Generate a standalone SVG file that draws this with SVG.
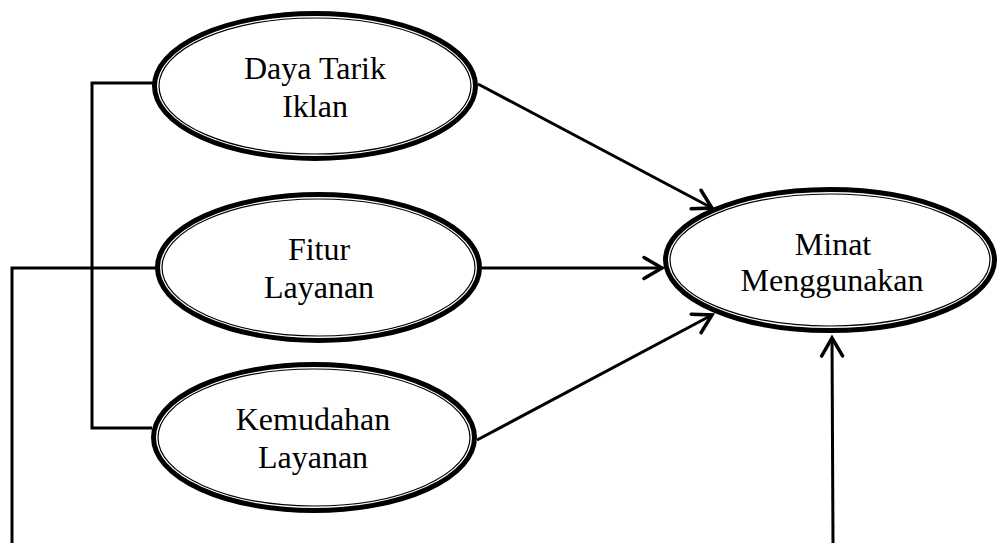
<svg xmlns="http://www.w3.org/2000/svg" width="998" height="543" viewBox="0 0 998 543">
<style>
.outer{fill:#fff;stroke:#000;stroke-width:5}
.inner{fill:none;stroke:#000;stroke-width:1.2}
.lbl{font-family:"Liberation Serif","Times New Roman",serif;font-size:32px;fill:#000;text-anchor:middle}
.ln{fill:none;stroke:#000;stroke-width:3}
.arr{fill:none;stroke:#000;stroke-width:3;marker-end:url(#ah)}
</style>
<defs>
<marker id="ah" markerUnits="userSpaceOnUse" viewBox="-22 -13 25 26" markerWidth="25" markerHeight="26" refX="0" refY="0" orient="auto" overflow="visible">
<path d="M-18,-10.5 L0,0 L-18,10.5" fill="none" stroke="#000" stroke-width="3.5" stroke-linejoin="miter" stroke-linecap="round"/>
</marker>
</defs>
<rect width="998" height="543" fill="#fff"/>
<g id="connectors">
<polyline class="ln" points="153,83 92,83 92,428 152,428"/>
<polyline class="ln" points="156,268 12,268 12,543"/>
<line class="arr" x1="478" y1="84" x2="712" y2="208"/>
<line class="arr" x1="482" y1="268" x2="662" y2="268"/>
<line class="arr" x1="477" y1="440" x2="712" y2="315"/>
<line class="arr" x1="833" y1="543" x2="832" y2="338"/>
</g>
<g id="daya-tarik-iklan">
<ellipse class="outer" cx="315" cy="86" rx="160.5" ry="72.5"/>
<ellipse class="inner" cx="315" cy="86" rx="156" ry="68"/>
<text class="lbl" x="315" y="79">Daya Tarik</text>
<text class="lbl" x="315" y="117">Iklan</text>
</g>
<g id="fitur-layanan">
<ellipse class="outer" cx="318.5" cy="267.5" rx="161" ry="73"/>
<ellipse class="inner" cx="318.5" cy="267.5" rx="156.5" ry="68.5"/>
<text class="lbl" x="319" y="260">Fitur</text>
<text class="lbl" x="319" y="298">Layanan</text>
</g>
<g id="kemudahan-layanan">
<ellipse class="outer" cx="314" cy="437.5" rx="160.5" ry="73"/>
<ellipse class="inner" cx="314" cy="437.5" rx="156" ry="68.5"/>
<text class="lbl" x="313" y="430">Kemudahan</text>
<text class="lbl" x="313" y="468">Layanan</text>
</g>
<g id="minat-menggunakan">
<ellipse class="outer" cx="830" cy="260" rx="164.5" ry="70.5"/>
<ellipse class="inner" cx="830" cy="260" rx="160" ry="66"/>
<text class="lbl" x="833" y="255">Minat</text>
<text class="lbl" x="832" y="291">Menggunakan</text>
</g>
</svg>
